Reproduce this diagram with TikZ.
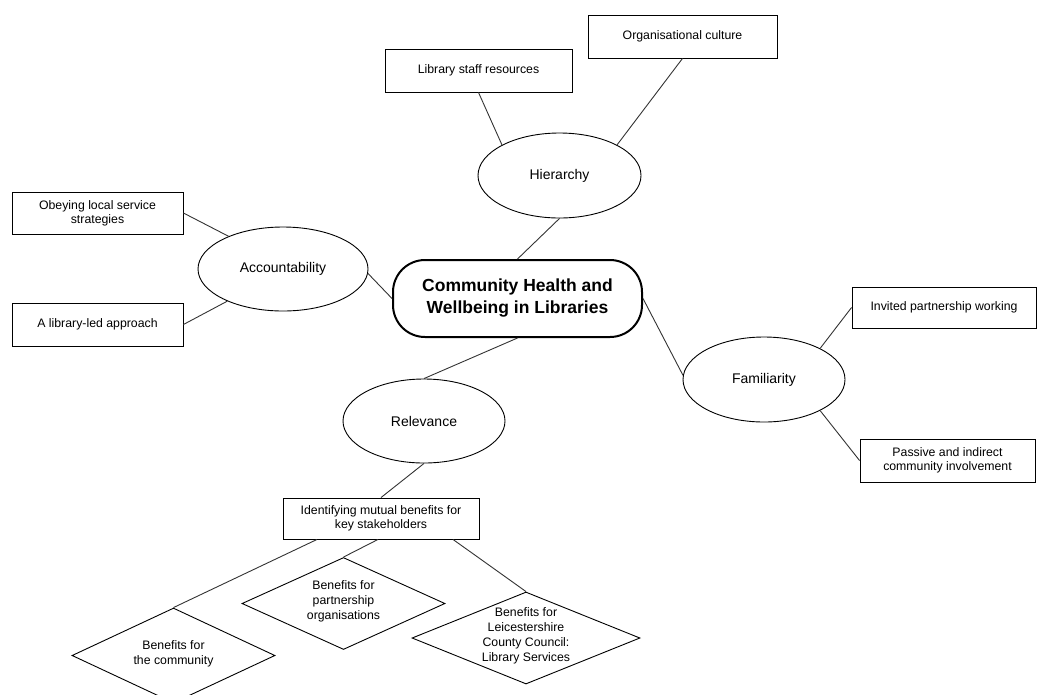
\documentclass[tikz,border=0pt]{standalone}
\usepackage{fontspec}
\setmainfont{Liberation Sans}
\usetikzlibrary{shapes.geometric}

\tikzset{
  link/.style={draw=black!80, line width=0.9pt},
  topicbox/.style={draw=black, line width=0.9pt, rectangle, inner sep=0pt,
    align=center, font=\fontsize{12.3}{14}\selectfont},
  theme/.style={draw=black, line width=0.9pt, ellipse, inner sep=0pt,
    font=\fontsize{14}{17}\selectfont},
  hub/.style={draw=black, line width=2pt, rectangle, rounded corners=32pt,
    inner sep=0pt, align=center,
    font=\fontsize{17.5}{22}\selectfont\bfseries},
  benefit/.style={draw=black, line width=0.9pt, diamond, inner sep=0pt,
    font=\fontsize{12.3}{15}\selectfont},
}
% text of a diamond node, kept from widening the shape
\newcommand{\dtext}[1]{\raisebox{-2.5pt}{\smash{\makebox[0pt]{\begin{tabular}{@{}c@{}}#1\end{tabular}}}}}

\begin{document}
\begin{tikzpicture}[x=1pt, y=-1pt]
  \useasboundingbox (0,0) rectangle (1038,694);

  % central topic
  \node[hub, minimum width=249pt, minimum height=77pt] (hub) at (517.5,298.5)
    {Community Health and\\Wellbeing in Libraries};

  % themes
  \node[theme, minimum width=163pt, minimum height=85pt] (hier) at (559.5,175.5) {Hierarchy};
  \node[theme, minimum width=170pt, minimum height=84pt] (acc) at (283,269) {Accountability};
  \node[theme, minimum width=162pt, minimum height=85pt] (fam) at (764,379.5) {Familiarity};
  \node[theme, minimum width=162pt, minimum height=84pt] (rel) at (424,421) {Relevance};

  % sub-topics
  \node[topicbox, minimum width=187pt, minimum height=43pt] (lib) at (478.5,70.5) {Library staff resources};
  \node[topicbox, minimum width=189pt, minimum height=43pt] (org) at (682.5,36.5) {Organisational culture};
  \node[topicbox, minimum width=171pt, minimum height=42pt] (obey) at (97.5,213) {Obeying local service\\strategies};
  \node[topicbox, minimum width=171pt, minimum height=43pt] (led) at (97.5,324.5) {A library-led approach};
  \node[topicbox, minimum width=184pt, minimum height=41pt] (inv) at (944,307.5) {Invited partnership working};
  \node[topicbox, minimum width=175pt, minimum height=43pt] (pas) at (947.5,460.5) {Passive and indirect\\community involvement};
  \node[topicbox, minimum width=196pt, minimum height=41pt] (ident) at (381,518.5) {Identifying mutual benefits for\\key stakeholders};

  % stakeholder benefits
  \node[benefit, minimum width=203pt, minimum height=95pt] (comm) at (173.5,655.5)
    {\dtext{Benefits for\\the community}};
  \node[benefit, minimum width=203pt, minimum height=92pt] (part) at (343.5,603.5)
    {\dtext{Benefits for\\partnership\\organisations}};
  \node[benefit, minimum width=228pt, minimum height=92pt] (leic) at (526,638)
    {\dtext{Benefits for\\Leicestershire\\County Council:\\Library Services}};

  % connectors
  \draw[link] (lib.south) -- (hier.152);
  \draw[link] (org.south) -- (hier.28);
  \draw[link] (hier.south) -- (hub.north);
  \draw[link] (obey.east) -- (acc.149);
  \draw[link] (led.east) -- (acc.210);
  \draw[link] (acc.-3) -- (hub.west);
  \draw[link] (hub.east) -- (fam.177);
  \draw[link] (fam.29) -- (inv.west);
  \draw[link] (fam.-29) -- (pas.west);
  \draw[link] (hub.south) -- (rel.north);
  \draw[link] (rel.south) -- (ident.north);
  \draw[link] ([xshift=-64pt]ident.south) -- (comm.north);
  \draw[link] ([xshift=-3pt]ident.south) -- (part.north);
  \draw[link] ([xshift=72pt]ident.south) -- (leic.north);
\end{tikzpicture}
\end{document}
